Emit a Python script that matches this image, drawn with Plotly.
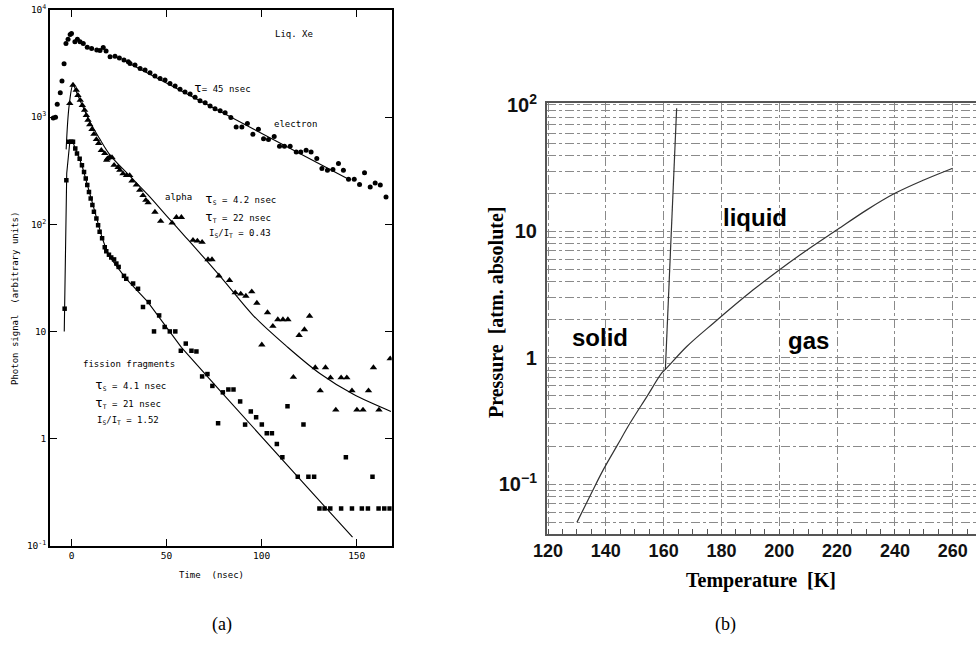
import numpy as np
import plotly.graph_objects as go

# ---------------- (a) Liquid xenon scintillation decay ----------------
electron_t = [-9.6, -8.4, -7.5, -5.9, -5.0, -3.9, -2.9, -1.8, -0.7, 0.0, 1.8, 3.1, 4.5, 6.2, 8.3,
              10.6, 13.3, 15.0, 16.7, 18.2, 20.3, 22.9, 25.2, 27.6, 29.9, 30.8, 33.4, 36.1, 38.7,
              41.3, 43.9, 46.6, 49.2, 51.8, 54.5, 57.1, 59.7, 62.4, 65.0, 67.6, 70.3, 72.9, 75.5,
              78.2, 80.8, 83.8, 86.6, 89.6, 92.5, 95.4, 98.3, 101.0, 103.6, 106.6, 109.4, 112.0,
              115.0, 118.2, 120.6, 123.4, 126.0, 129.0, 131.7, 134.6, 137.5, 140.4, 143.0, 145.7,
              148.7, 151.5, 154.1, 157.1, 159.7, 162.4, 165.4]
electron_v = [980, 1000, 1320, 1690, 2170, 3150, 4880, 5330, 5900, 6050, 5050, 5330, 5050, 4880, 4480,
              4380, 4230, 4190, 4460, 4140, 3660, 3700, 3560, 3410, 3290, 3170, 3070, 2850, 2750,
              2590, 2415, 2290, 2220, 2060, 1950, 1820, 1720, 1640, 1530, 1420, 1360, 1270, 1200,
              1145, 1100, 990, 811, 811, 870, 693, 770, 630, 620, 660, 536, 536,
              536, 474, 474, 490, 474, 411, 331, 320, 325, 369, 320, 263,
              263, 235, 302, 223, 243, 232, 180]
electron_fit_t = [30, 145]
electron_fit_v = [3200, 267]

alpha_t = [-0.9, 0.8, 2.5, 3.4, 4.6, 5.7, 6.9, 7.8, 8.7, 9.6, 10.8, 11.8, 13.1, 14.3, 15.7, 17.5,
           18.5, 18.9, 20.1, 21.3, 22.4, 24.5, 25.4, 27.1, 28.9, 30.6, 31.8, 34.1, 35.9, 37.6, 39.1,
           40.3, 43.9, 46.9, 52.9, 55.2, 57.8, 63.9, 66.2, 68.7, 71.8, 73.9, 77.5, 83.1, 86.1, 89.0,
           91.7, 94.8, 97.5, 100.1, 103.1, 105.9, 108.5, 111.2, 113.8, 116.7, 119.7, 122.5, 125.2,
           128.2, 130.8, 133.6, 136.2, 139.0, 141.8, 144.8, 147.5, 150.1, 153.3, 156.2, 158.8,
           161.7, 167.6]
alpha_v = [1343, 1995, 1790, 1600, 1440, 1290, 1160, 1040, 938, 852, 770, 693, 620, 570, 490, 458,
           396, 410, 425, 420, 356, 340, 320, 297, 286, 286, 254, 233, 208, 186, 168,
           159, 130, 107, 103, 116, 116, 71, 70, 68, 46.8, 46.8, 33, 30, 23, 22.4,
           21.4, 23.5, 18.4, 7.5, 15, 11.2, 12.9, 12.9, 12.9, 3.74, 9.2, 10.4, 13.9,
           4.6, 2.8, 4.6, 3.7, 1.85, 3.7, 3.7, 2.8, 1.85, 1.85, 2.8, 4.6,
           1.85, 5.56]
alpha_fit_t = [-2.8, -1.2, 0.8, 3, 6, 10, 15, 20, 30, 40, 50, 60, 70, 80, 95.7, 113, 131, 148, 168]
alpha_fit_v = [500, 1300, 2000, 1650, 1250, 880, 620, 450, 290, 190, 120, 76, 48, 30, 14, 7.3, 4.0, 2.6, 1.79]

fission_t = [-3.6, -2.7, -1.5, -0.1, 0.8, 2.0, 2.9, 4.3, 5.5, 6.6, 7.5, 8.3, 9.2, 10.1, 11.0, 11.8,
             13.1, 14.0, 14.8, 16.1, 17.5, 18.3, 19.7, 20.9, 22.4, 23.6, 24.8, 27.6, 28.8, 32.4, 35.0,
             37.6, 40.6, 43.4, 46.1, 49.0, 51.7, 54.6, 57.5, 60.1, 63.1, 65.7, 68.7, 71.5, 74.1,
             77.1, 79.6, 82.5, 85.2, 88.7, 91.3, 94.3, 97.1, 100.1, 102.7, 105.4, 108.0, 110.9,
             113.6, 119.0, 122.0, 124.6, 127.6, 130.4, 133.1, 136.1, 141.8, 144.3, 147.5, 152.7,
             155.9, 158.3, 161.5, 164.5, 167.3]
fission_v = [16.3, 258, 590, 590, 590, 510, 458, 410, 356, 308, 267, 233, 200, 174, 151, 131,
             113, 98, 85, 74, 61, 56, 52, 49, 47, 43, 40, 33, 31, 28, 25,
             16.9, 18.8, 10, 14.1, 11, 10, 10, 6.6, 7.7, 6.6, 6.5, 3.8, 4.0, 3.1,
             1.39, 2.7, 2.87, 2.87, 2.22, 1.35, 1.79, 1.58, 1.35, 1.12, 1.12, 0.89, 0.67,
             2.0, 0.44, 1.35, 0.44, 0.44, 0.223, 0.223, 0.223, 0.223, 0.67, 0.223, 0.223,
             0.223, 0.44, 0.223, 0.223, 0.223]
fission_fit_t = [-3.8, -2.5, -1, 0.5, 2, 4, 6, 8, 10, 12, 14, 16, 18, 20, 24, 28.8, 40, 57.8, 78.1, 100, 120, 147.8]
fission_fit_v = [10, 300, 560, 600, 510, 420, 330, 245, 178, 130, 98, 76, 60, 50, 40, 31, 19, 7.1, 2.8, 1.03, 0.42, 0.12]

a_xticks = [0, 50, 100, 150]
a_yticks = [0.1, 1, 10, 100, 1000, 10000]
a_yticktext = ["10<sup>-1</sup>", "1", "10", "10<sup>2</sup>", "10<sup>3</sup>", "10<sup>4</sup>"]

# ---------------- (b) Xenon phase diagram ----------------
melt_T = [160.6, 164.5]
melt_P = [0.81, 94]
vapor_T = [130, 135, 139.1, 144, 148.4, 154.2, 159.3, 160.6, 168, 177.2, 191, 200, 209.5, 220, 230.3, 240, 250, 260]
vapor_P = [0.05, 0.085, 0.13, 0.204, 0.305, 0.494, 0.757, 0.81, 1.23, 1.88, 3.45, 4.96, 7.1, 10.3, 14.8, 20, 25.5, 31.6]
b_xticks = [120, 140, 160, 180, 200, 220, 240, 260]
b_yticks = [0.1, 1, 10, 100]
b_yticktext = ["10<sup>−1</sup>", "1", "10", "10<sup>2</sup>"]

W, H = 976, 649
def PX(x):
    return x / W
def PY(y):
    return 1 - y / H

fig = go.Figure()
mono = "DejaVu Sans Mono"
INK = "#000000"

fig.add_trace(go.Scatter(x=electron_fit_t, y=electron_fit_v, mode="lines",
                         line=dict(color="black", width=1.1), xaxis="x", yaxis="y"))
fig.add_trace(go.Scatter(x=alpha_fit_t, y=alpha_fit_v, mode="lines", line_shape="spline",
                         line=dict(color="black", width=1.1), xaxis="x", yaxis="y"))
fig.add_trace(go.Scatter(x=fission_fit_t, y=fission_fit_v, mode="lines",
                         line=dict(color="black", width=1.1), xaxis="x", yaxis="y"))
fig.add_trace(go.Scatter(x=electron_t, y=electron_v, mode="markers",
                         marker=dict(symbol="circle", size=5, color="black"), xaxis="x", yaxis="y"))
fig.add_trace(go.Scatter(x=alpha_t, y=alpha_v, mode="markers",
                         marker=dict(symbol="triangle-up", size=6.5, color="black"), xaxis="x", yaxis="y"))
fig.add_trace(go.Scatter(x=fission_t, y=fission_v, mode="markers",
                         marker=dict(symbol="square", size=4.5, color="black"), xaxis="x", yaxis="y"))

fig.add_trace(go.Scatter(x=melt_T, y=melt_P, mode="lines",
                         line=dict(color="#333333", width=1.2), xaxis="x2", yaxis="y2"))
fig.add_trace(go.Scatter(x=vapor_T, y=vapor_P, mode="lines", line_shape="spline",
                         line=dict(color="#333333", width=1.2), xaxis="x2", yaxis="y2"))

grid = dict(showgrid=True, gridcolor="#8a8a8a", gridwidth=0.8, griddash="dashdot")

fig.update_layout(
    width=W, height=H, showlegend=False,
    margin=dict(l=0, r=0, t=0, b=0),
    paper_bgcolor="white", plot_bgcolor="white",
    xaxis=dict(domain=[PX(50), PX(391.7)], anchor="y", range=[-11.3, 168.4], automargin=False,
               tickvals=a_xticks, ticks="inside", ticklen=7, tickwidth=1.2, tickcolor="black",
               showline=True, linecolor="black", linewidth=1.5, mirror="ticks",
               showgrid=False, zeroline=False,
               tickfont=dict(family=mono, size=9.5, color=INK)),
    yaxis=dict(domain=[PY(545.7), PY(10)], anchor="x", type="log", range=[-1, 4], automargin=False,
               tickvals=a_yticks, ticktext=a_yticktext, ticks="inside", ticklen=7, tickwidth=1.2,
               tickcolor="black", showline=True, linecolor="black", linewidth=1.5, mirror="ticks",
               showgrid=False, zeroline=False,
               tickfont=dict(family=mono, size=9.5, color=INK)),
    xaxis2=dict(domain=[PX(546.7), 1.0], anchor="y2", range=[119.55, 268.05], automargin=False,
                tickvals=b_xticks, ticks="inside", ticklen=5, tickcolor="#555",
                minor=dict(dtick=5, tick0=120, ticks="inside", ticklen=5, tickcolor="#555", showgrid=False),
                showline=True, linecolor="#555", linewidth=1.5, mirror=True,
                zeroline=False, **grid,
                tickfont=dict(family="Liberation Sans", size=18, color="#111", weight="bold")),
    yaxis2=dict(domain=[PY(534), PY(103.3)], anchor="x2", type="log", range=[-1.393, 2.013], automargin=False,
                tickvals=b_yticks, ticktext=b_yticktext, ticks="",
                minor=dict(dtick="D1", ticks="", showgrid=True, gridcolor="#8a8a8a", gridwidth=0.8, griddash="dashdot"),
                showline=True, linecolor="#555", linewidth=1.5, mirror=False,
                zeroline=False, ticklabelstandoff=4, **grid,
                tickfont=dict(family="Liberation Sans", size=20, color="#111", weight="bold")),
)

ann = []
def A(text, x, y, size=9, family=mono, xanchor="left", angle=0, color=INK):
    ann.append(dict(text=text, x=PX(x), y=PY(y), xref="paper", yref="paper", showarrow=False,
                    xanchor=xanchor, yanchor="middle", textangle=angle,
                    font=dict(family=family, size=size, color=color)))

TAU = "<span style='font-size:13px'>τ</span>"
A("Liq. Xe", 273, 34)
A(TAU + "= 45 nsec", 192, 87)
A("electron", 272, 124)
A("alpha", 163, 197)
A(TAU + "<sub>S</sub> = 4.2 nsec", 203, 198)
A(TAU + "<sub>T</sub> = 22 nsec", 203, 216)
A("I<sub>S</sub>/I<sub>T</sub> = 0.43", 207, 233)
A("fission fragments", 81, 364)
A(TAU + "<sub>S</sub> = 4.1 nsec", 93, 384)
A(TAU + "<sub>T</sub> = 21 nsec", 93, 402)
A("I<sub>S</sub>/I<sub>T</sub> = 1.52", 95, 421)
A("Photon signal  (arbitrary units)", 15, 299, angle=-90, xanchor="center")
A("Time  (nsec)", 211, 575, xanchor="center")

A("<b>liquid</b>", 755, 217, size=24, family="Liberation Sans", xanchor="center")
A("<b>solid</b>", 600, 337, size=24, family="Liberation Sans", xanchor="center")
A("<b>gas</b>", 808, 340, size=24, family="Liberation Sans", xanchor="center")
A("<b>Pressure  [atm. absolute]</b>", 496, 313, size=20, family="Liberation Serif", xanchor="center", angle=-90)
A("<b>Temperature  [K]</b>", 761, 580, size=20, family="Liberation Serif", xanchor="center")

A("(a)", 222, 624, size=18, family="Liberation Serif", xanchor="center")
A("(b)", 725, 624, size=18, family="Liberation Serif", xanchor="center")

fig.update_layout(annotations=ann)
fig.write_html("out.html")
